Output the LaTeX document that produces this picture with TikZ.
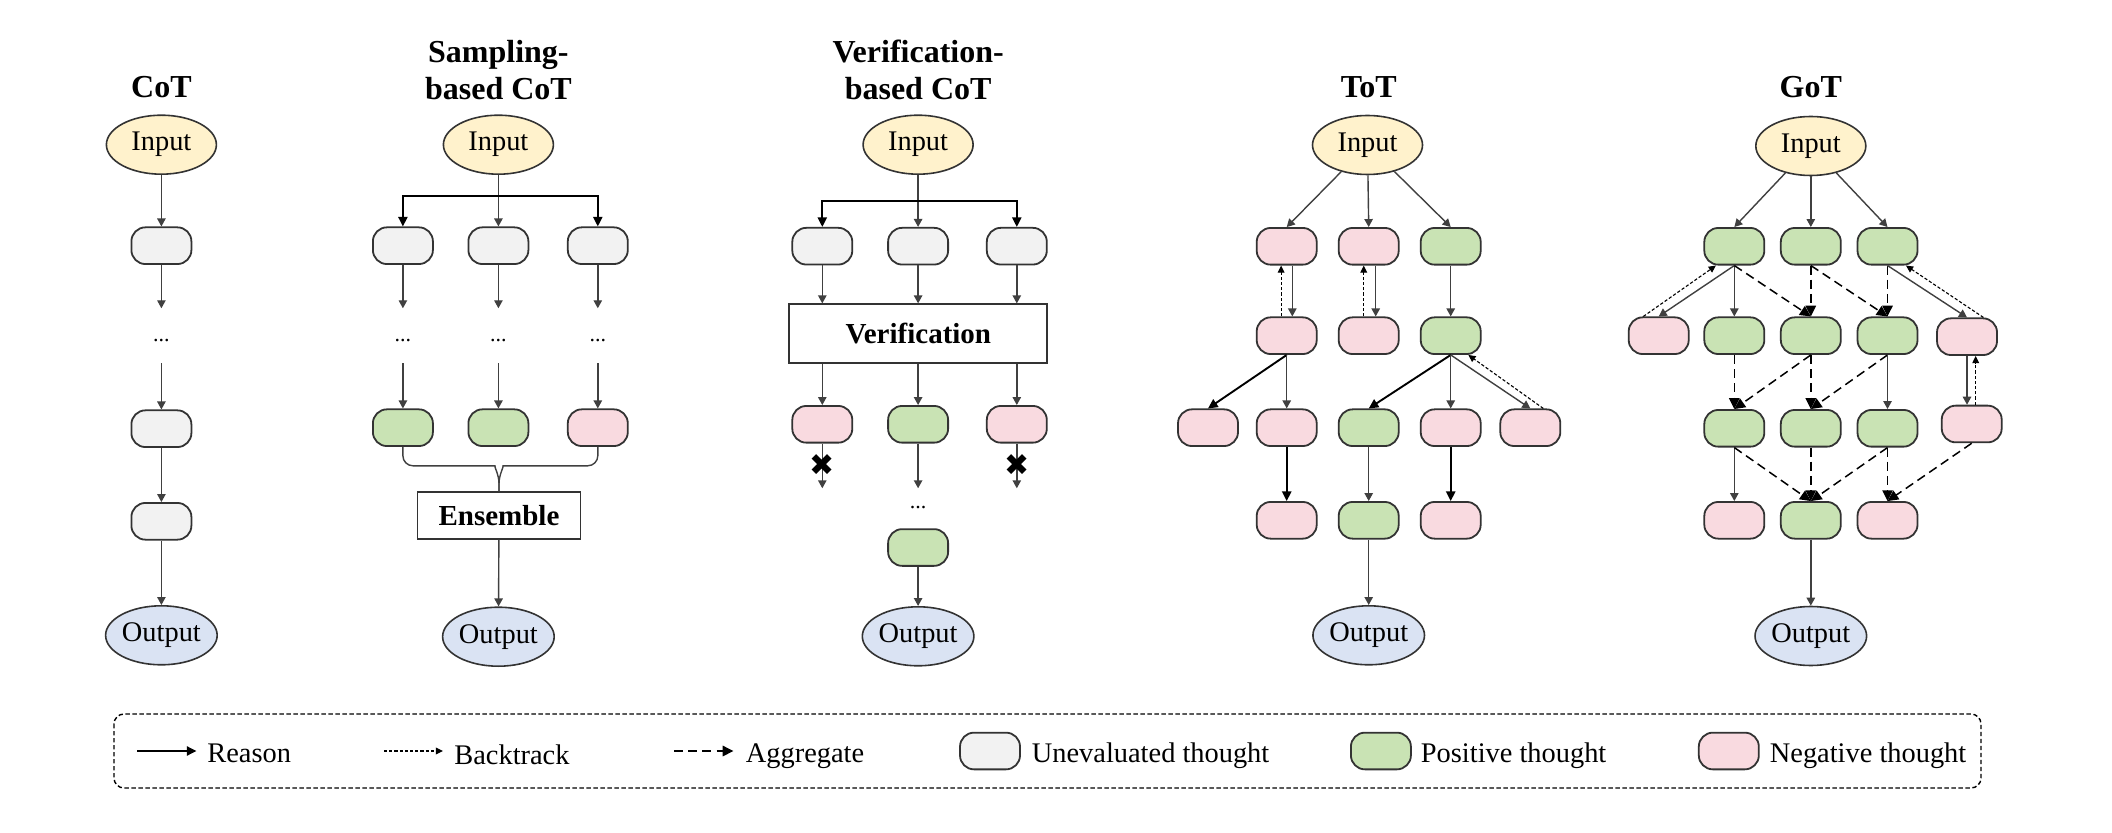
\documentclass[tikz,border=0pt]{standalone}
\usepackage{fontspec}
\setmainfont{Liberation Serif}
\newfontfamily\dejavu{DejaVu Sans}
\usetikzlibrary{shapes.geometric,arrows.meta,calc}
\definecolor{cgray}{HTML}{F2F2F2}
\definecolor{cgreen}{HTML}{C9E3B4}
\definecolor{cpink}{HTML}{F9DAE0}
\definecolor{cyellow}{HTML}{FFF2CC}
\definecolor{cblue}{HTML}{DAE3F3}
\definecolor{bd}{HTML}{333333}
\definecolor{lg}{HTML}{404040}
\begin{document}
\begin{tikzpicture}[x=0.5pt,y=-0.5pt,
 every node/.style={inner sep=0pt, font=\fontsize{14.2}{17}\selectfont},
 thought/.style={draw=bd, line width=0.9pt, rounded corners=7pt, minimum width=30pt, minimum height=18.35pt},
 gth/.style={thought, fill=cgray},
 pth/.style={thought, fill=cgreen},
 nth/.style={thought, fill=cpink},
 inp/.style={ellipse, draw=bd, line width=0.8pt, fill=cyellow, minimum width=55pt, minimum height=29.5pt},
 outp/.style={ellipse, draw=bd, line width=0.8pt, fill=cblue, minimum width=55pt, minimum height=29.5pt},
 ttl/.style={font=\bfseries\fontsize{16}{18}\selectfont, anchor=base},
 boxn/.style={draw=bd, line width=0.9pt, fill=white, font=\bfseries\fontsize{14.5}{17}\selectfont},
 conn/.style={draw=lg, line width=0.7pt, -{Triangle[length=4pt,width=4.2pt]}},
 connb/.style={draw=black, line width=0.95pt, -{Triangle[length=4.8pt,width=4.6pt]}},
 plainl/.style={draw=lg, line width=0.7pt},
 back/.style={draw=black, line width=0.55pt, dash pattern=on 1.6pt off 1pt, -{Triangle[length=3.6pt,width=3.4pt]}},
 agg/.style={draw=black, line width=0.75pt, dash pattern=on 4.5pt off 2.6pt, -{Triangle[length=5.4pt,width=5.2pt]}},
 dotsn/.style={font=\fontsize{11}{13}\selectfont, anchor=base},
 xm/.style={font=\dejavu\fontsize{15}{15}\selectfont},
 lt/.style={anchor=base west}
]
\fill[white] (0,0) rectangle (2112,833);
\useasboundingbox (0,0) rectangle (2112,833);

% ---------------- CoT
\node[ttl] (tt1) at (161.4,98) {CoT};
\node[inp] (cin) at (161.4,144.7) {Input};
\node[gth] (c1) at (161.4,245.7) {};
\coordinate (c1e) at (161.4,308.3);
\node[dotsn] (cd) at (161.4,341.5) {...};
\coordinate (c3s) at (161.4,363.3);
\node[gth] (c3) at (161.4,428.7) {};
\node[gth] (c4) at (161.4,521.3) {};
\node[outp] (cout) at (161.4,635.3) {Output};
\draw[conn] (cin) -- (c1);
\draw[conn] (c1) -- (c1e);
\draw[conn] (c3s) -- (c3);
\draw[conn] (c3) -- (c4);
\draw[conn] (c4) -- (cout);

% ---------------- Sampling-based CoT
\node[ttl] (tt2a) at (498.4,62.5) {Sampling-};
\node[ttl] (tt2b) at (498.4,99.5) {based CoT};
\node[inp] (sin) at (498.4,144.7) {Input};
\coordinate (sj) at (498.4,196);
\node[gth] (s1) at (402.9,245.7) {};
\node[gth] (s2) at (498.4,245.7) {};
\node[gth] (s3) at (597.8,245.7) {};
\draw[conn] (sin) -- (s2);
\draw[connb] (sj) -| (s1.north);
\draw[connb] (sj) -| (s3.north);
\foreach \n/\x in {1/402.9,2/498.4,3/597.8}{
  \coordinate (se\n) at (\x,308.3);
  \node[dotsn] (sd\n) at (\x,341.5) {...};
  \coordinate (sf\n) at (\x,363.3);
  \draw[conn] (s\n) -- (se\n);
}
\node[pth] (q1) at (402.9,427.7) {};
\node[pth] (q2) at (498.4,427.7) {};
\node[nth] (q3) at (597.8,427.7) {};
\draw[conn] (sf1) -- (q1);
\draw[conn] (sf2) -- (q2);
\draw[conn] (sf3) -- (q3);
\node[boxn, minimum width=81.5pt, minimum height=23.2pt] (ens) at (499,515.5) {Ensemble};
\draw[plainl, rounded corners=5pt] (q1.south) |- ([xshift=-7pt,yshift=12.8pt]ens.north) [sharp corners] to[out=0,in=90] ([yshift=4pt]ens.north) -- (ens.north);
\draw[plainl, rounded corners=5pt] (q3.south) |- ([xshift=7pt,yshift=12.8pt]ens.north) [sharp corners] to[out=180,in=90] ([yshift=4pt]ens.north) -- (ens.north);
\node[outp] (sout) at (498.4,636.7) {Output};
\draw[conn] (ens) -- (sout);

% ---------------- Verification-based CoT
\node[ttl] (tt3a) at (918.1,62.5) {Verification-};
\node[ttl] (tt3b) at (918.1,99.5) {based CoT};
\node[inp] (vin) at (918.1,144.7) {Input};
\coordinate (vj) at (918.1,201);
\node[gth] (v1) at (822.3,246.2) {};
\node[gth] (v2) at (918.1,246.2) {};
\node[gth] (v3) at (1016.8,246.2) {};
\draw[conn] (vin) -- (v2);
\draw[connb] (vj) -| (v1.north);
\draw[connb] (vj) -| (v3.north);
\node[boxn, minimum width=129pt, minimum height=29.2pt] (vb) at (918.3,333.5) {Verification};
\draw[conn] (v1) -- (v1 |- vb.north);
\draw[conn] (v2) -- (v2 |- vb.north);
\draw[conn] (v3) -- (v3 |- vb.north);
\node[nth] (w1) at (822.3,424.3) {};
\node[pth] (w2) at (918.1,424.3) {};
\node[nth] (w3) at (1016.8,424.3) {};
\draw[conn] (w1 |- vb.south) -- (w1);
\draw[conn] (w2 |- vb.south) -- (w2);
\draw[conn] (w3 |- vb.south) -- (w3);
\coordinate (we1) at (822.3,488.3);
\coordinate (we2) at (918.1,488.3);
\coordinate (we3) at (1016.8,488.3);
\draw[conn] (w1) -- (we1);
\draw[conn] (w2) -- (we2);
\draw[conn] (w3) -- (we3);
\node[xm] (xm1) at (822.3,465) {✖};
\node[xm] (xm3) at (1016.8,465) {✖};
\node[dotsn] (vd) at (918.1,508) {...};
\node[pth] (w4) at (918.1,547.5) {};
\node[outp] (vout) at (918.1,636.3) {Output};
\draw[conn] (w4) -- (vout);

% ---------------- ToT
\node[ttl] (tt4) at (1368.7,98) {ToT};
\node[inp] (tin) at (1367.5,145) {Input};
\node[nth] (a1) at (1286.7,246.3) {};
\node[nth] (a2) at (1368.7,246.3) {};
\node[pth] (a3) at (1450.7,246.3) {};
\draw[conn] (tin) -- (a1.north);
\draw[conn] (tin) -- (a2.north);
\draw[conn] (tin) -- (a3.north);
\node[nth] (b1) at (1286.7,335.7) {};
\node[nth] (b2) at (1368.7,335.7) {};
\node[pth] (b3) at (1450.7,335.7) {};
\draw[conn] ([xshift=2.8pt]a1.south) -- ([xshift=2.8pt]b1.north);
\draw[back] ([xshift=-2.8pt]b1.north) -- ([xshift=-2.8pt]a1.south);
\draw[conn] ([xshift=3.5pt]a2.south) -- ([xshift=3.5pt]b2.north);
\draw[back] ([xshift=-2.5pt]b2.north) -- ([xshift=-2.5pt]a2.south);
\draw[conn] (a3) -- (b3);
\node[nth] (tc1) at (1208,427.7) {};
\node[nth] (tc2) at (1286.7,427.7) {};
\node[pth] (tc3) at (1368.7,427.7) {};
\node[nth] (tc4) at (1450.7,427.7) {};
\node[nth] (tc5) at (1530.3,427.7) {};
\draw[connb] (b1.south) -- (tc1.north);
\draw[conn] (b1) -- (tc2);
\draw[connb] (b3.south) -- (tc3.north);
\draw[conn] (b3) -- (tc4);
\draw[conn] (b3.south) -- (tc5.north);
\draw[back] ([xshift=6.5pt]tc5.north) -- ([xshift=8.8pt]b3.south);
\node[nth] (d1) at (1286.7,520.3) {};
\node[pth] (d2) at (1368.7,520.3) {};
\node[nth] (d3) at (1450.7,520.3) {};
\draw[connb] (tc2) -- (d1);
\draw[conn] (tc3) -- (d2);
\draw[connb] (tc4) -- (d3);
\node[outp] (tout) at (1368.7,635.3) {Output};
\draw[conn] (d2) -- (tout);

% ---------------- GoT
\node[ttl] (tt5) at (1810.8,98) {GoT};
\node[inp] (gin) at (1810.8,146) {Input};
\node[pth] (e1) at (1734.3,246.3) {};
\node[pth] (e2) at (1810.8,246.3) {};
\node[pth] (e3) at (1887.5,246.3) {};
\draw[conn] (gin) -- (e1.north);
\draw[conn] (gin) -- (e2);
\draw[conn] (gin) -- (e3.north);
\node[nth] (f0) at (1658.7,335.7) {};
\node[pth] (f1) at (1734.3,335.7) {};
\node[pth] (f2) at (1810.8,335.7) {};
\node[pth] (f3) at (1887.5,335.7) {};
\node[nth] (f4) at (1967,336.7) {};
\draw[conn] (e1.south) -- (f0.north);
\draw[back] ([xshift=-7.7pt]f0.north) -- ([xshift=-9.2pt]e1.south);
\draw[conn] (e1) -- (f1);
\draw[agg] (e1.south) -- (f2.north);
\draw[agg] (e2) -- (f2);
\draw[agg] (e2.south) -- (f3.north);
\draw[agg] (e3) -- (f3);
\draw[conn] (e3.south) -- (f4.north);
\draw[back] ([xshift=8.2pt]f4.north) -- ([xshift=9.2pt]e3.south);
\node[pth] (h1) at (1734.3,428.3) {};
\node[pth] (h2) at (1810.8,428.3) {};
\node[pth] (h3) at (1887.5,428.3) {};
\node[nth] (h4) at (1971.7,424) {};
\draw[agg] (f1) -- (h1);
\draw[agg] (f2.south) -- (h1.north);
\draw[agg] (f2) -- (h2);
\draw[agg] (f3.south) -- (h2.north);
\draw[conn] (f3) -- (h3);
\draw[conn] (f4.south) -- (f4.south |- h4.north);
\draw[back] ([xshift=2pt]h4.north) -- ([xshift=2pt]h4.north |- f4.south);
\node[nth] (k1) at (1734.3,520.3) {};
\node[pth] (k2) at (1810.8,520.3) {};
\node[nth] (k3) at (1887.5,520.3) {};
\draw[conn] (h1) -- (k1);
\draw[agg] (h1.south) -- (k2.north);
\draw[agg] (h2) -- (k2);
\draw[agg] (h3.south) -- (k2.north);
\draw[agg] (h3) -- (k3);
\draw[agg] (h4.south) -- (k3.north);
\node[outp] (gout) at (1810.8,636) {Output};
\draw[conn] (k2) -- (gout);

% ---------------- Legend
\draw[draw=black, line width=0.7pt, dash pattern=on 2.2pt off 1.3pt, rounded corners=5pt] (114,714) rectangle (1981,788);
\coordinate (lr1) at (137,751);
\coordinate (lr2) at (196.4,751);
\draw[connb] (lr1) -- (lr2);
\node[lt] (lrt) at (207,762) {Reason};
\coordinate (lb1) at (384,751);
\coordinate (lb2) at (443,751);
\draw[back] (lb1) -- (lb2);
\node[lt] (lbt) at (454,764) {Backtrack};
\coordinate (la1) at (674,751);
\coordinate (la2) at (733.5,751);
\draw[agg] (la1) -- (la2);
\node[lt] (lat) at (745.5,762) {Aggregate};
\node[gth] (lg1) at (990,751) {};
\node[lt] (lgt) at (1031.5,762) {Unevaluated thought};
\node[pth] (lp1) at (1380.9,751) {};
\node[lt] (lpt) at (1420.5,762) {Positive thought};
\node[nth] (ln1) at (1728.8,751) {};
\node[lt] (lnt) at (1769.5,762) {Negative thought};
\end{tikzpicture}
\end{document}
